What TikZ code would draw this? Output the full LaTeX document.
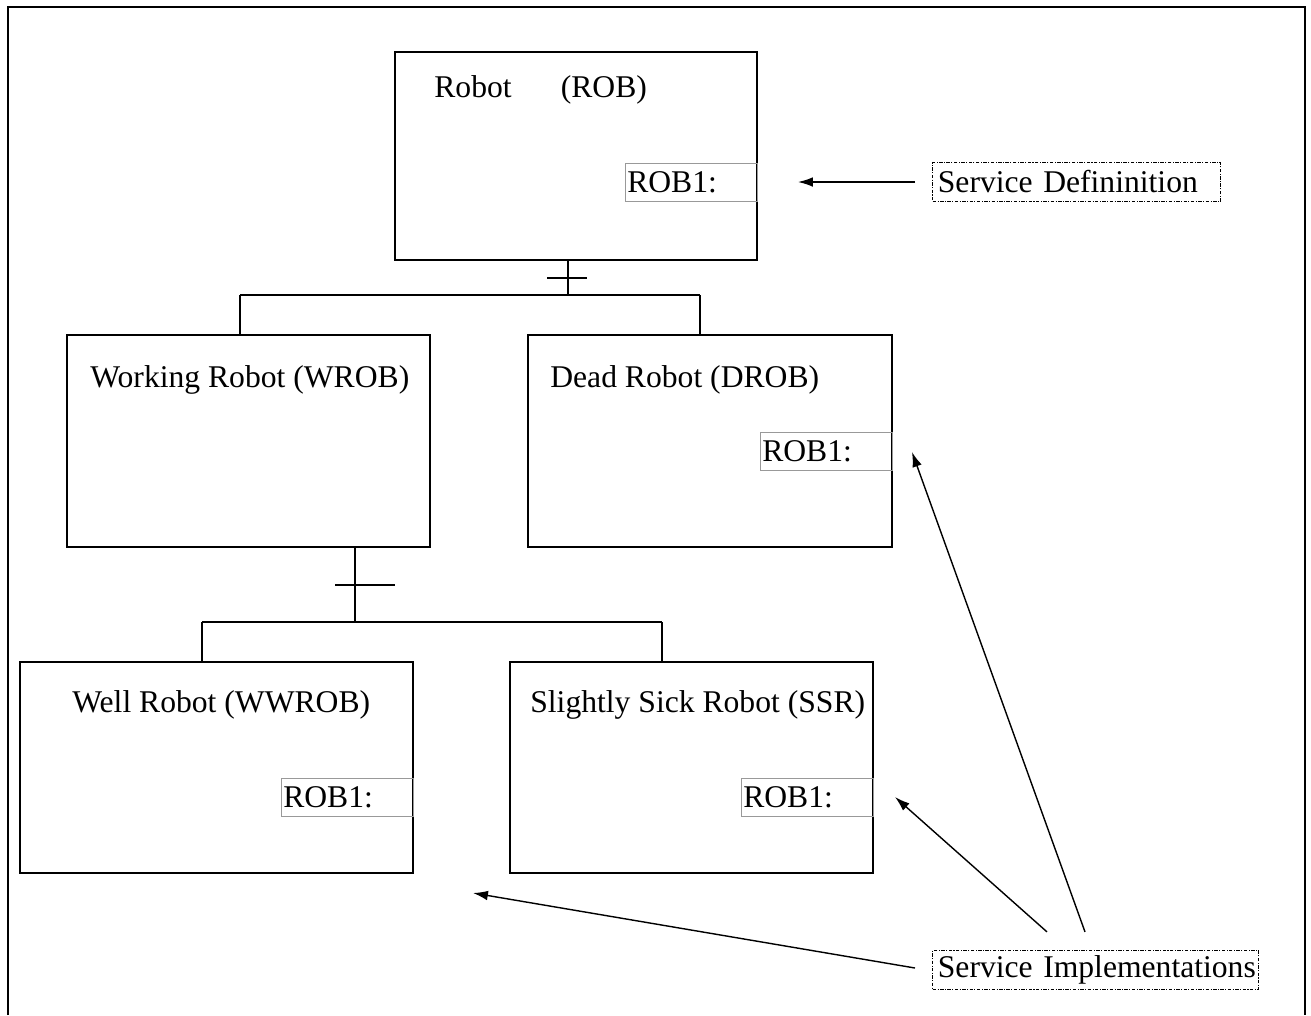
\documentclass[tikz,border=0pt]{standalone}
\usepackage{fontspec}
\setmainfont{Liberation Serif}
\usetikzlibrary{arrows.meta}

\begin{document}
\begin{tikzpicture}[x=0.02cm,y=-0.02cm,
    box/.style={draw, line width=1.1pt, outer sep=0pt, inner sep=0pt},
    title/.style={anchor=west, inner sep=0pt, font=\fontsize{18}{21}\selectfont},
    tag/.style={draw=gray!80, line width=0.4pt, anchor=east, outer sep=0pt, inner xsep=1pt, inner ysep=0pt,
        minimum height=0.76cm, text width=2.56cm, font=\fontsize{18}{21}\selectfont},
    note/.style={draw, dash pattern=on 2pt off 0.8pt on 0.6pt off 0.8pt, line width=0.7pt, anchor=west,
        inner xsep=3pt, inner ysep=0pt, minimum height=0.78cm, font=\fontsize{18}{21}\selectfont},
    link/.style={line width=1.1pt},
    pointer/.style={line width=0.8pt, -{Latex[length=8.5pt,width=5.5pt]}}]
    \useasboundingbox (0,0) rectangle (1311,1015);
    \draw [line width=1.6pt] (8,1015) -- (8,7) -- (1305,7) -- (1305,1015);

    \node [box, minimum width=7.24cm, minimum height=4.16cm] (rob) at (576,156) {};
    \node [title] (robtext) at (434,90) {Robot\hspace{28pt}(ROB)};
    \node [tag] (robtag) at (757,182) {ROB1:};

    \node [box, minimum width=7.26cm, minimum height=4.24cm] (wrob) at (248.5,441) {};
    \node [title] (wrobtext) at (90,380) {Working Robot (WROB)};

    \node [box, minimum width=7.28cm, minimum height=4.24cm] (drob) at (710,441) {};
    \node [title] (drobtext) at (550,380) {Dead Robot (DROB)};
    \node [tag] (drobtag) at (892,451) {ROB1:};

    \node [box, minimum width=7.86cm, minimum height=4.22cm] (wwrob) at (216.5,767.5) {};
    \node [title] (wwrobtext) at (72,705) {Well Robot (WWROB)};
    \node [tag] (wwrobtag) at (413,797) {ROB1:};

    \node [box, minimum width=7.26cm, minimum height=4.22cm] (ssr) at (691.5,767.5) {};
    \node [title] (ssrtext) at (530,705) {Slightly Sick Robot (SSR)};
    \node [tag] (ssrtag) at (873,797) {ROB1:};

    \node [note, text width=5.55cm] (sdef) at (932,182) {Service Defininition};
    \node [note, text width=6.31cm] (simp) at (932,970) {\mbox{Service Implementations}};

    \coordinate (top) at (568,295);
    \coordinate (topl) at (240,295);
    \coordinate (topr) at (700,295);
    \draw [link] (top) -- (top |- rob.south);
    \draw [link] (topl) -- (topr);
    \draw [link] (topl) -- (topl |- wrob.north);
    \draw [link] (topr) -- (topr |- drob.north);
    \draw [link] (547,278) -- (587,278);

    \coordinate (low) at (355,622);
    \coordinate (lowl) at (202,622);
    \coordinate (lowr) at (662,622);
    \draw [link] (low) -- (low |- wrob.south);
    \draw [link] (lowl) -- (lowr);
    \draw [link] (lowl) -- (lowl |- wwrob.north);
    \draw [link] (lowr) -- (lowr |- ssr.north);
    \draw [link] (335,585) -- (395,585);

    \coordinate (sdefend) at (798,182);
    \draw [pointer] (sdef.west) ++(-17,0) -- (sdefend);

    \coordinate (wwrobend) at (473,893);
    \coordinate (ssrend) at (895,797);
    \coordinate (drobend) at (912,452);
    \draw [pointer] (simp.west) ++(-17,-2) -- (wwrobend);
    \draw [pointer] (simp.north west) ++(115,-18) -- (ssrend);
    \draw [pointer] (simp.north west) ++(153,-18) -- (drobend);
\end{tikzpicture}
\end{document}
